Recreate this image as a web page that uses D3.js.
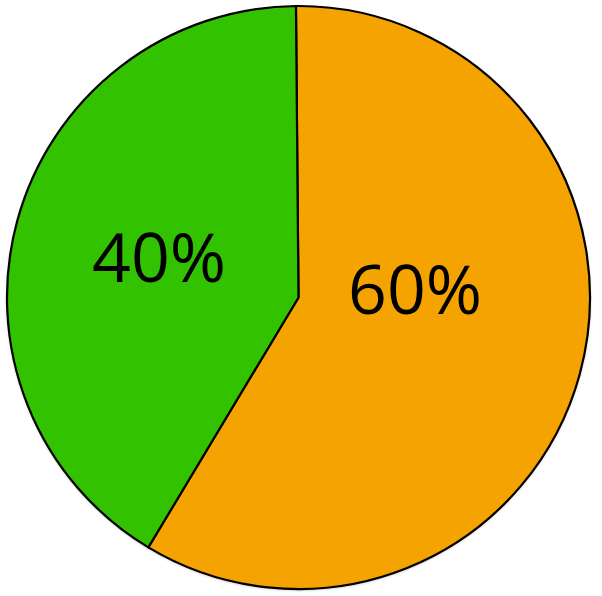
<!DOCTYPE html>
<html><head><meta charset="utf-8">
<script src="https://cdn.jsdelivr.net/npm/d3@7"></script>
<style>html,body{margin:0;padding:0;background:#fff;}svg{display:block;}</style>
</head><body>
<script>
const categories = ["Orange", "Green"];
const values = [58.75, 41.25];
const labels = ["60%", "40%"];
const colors = ["#f5a300", "#32c200"];

const W = 602, H = 596;
const cx = 298.5, cy = 297.5, R = 291.5;
const svg = d3.select("body").append("svg").attr("width", W).attr("height", H);
const defs = svg.append("defs");
const f = defs.append("filter").attr("id","sh").attr("x","-10%").attr("y","-10%").attr("width","120%").attr("height","120%");
f.append("feGaussianBlur").attr("in","SourceAlpha").attr("stdDeviation",1.5).attr("result","b");
f.append("feOffset").attr("in","b").attr("dx",0).attr("dy",1).attr("result","o");
f.append("feComponentTransfer").attr("in","o").attr("result","o2").append("feFuncA").attr("type","linear").attr("slope",0.35);
const m = f.append("feMerge"); m.append("feMergeNode").attr("in","o2"); m.append("feMergeNode").attr("in","SourceGraphic");

const startOff = -0.5 * Math.PI / 180;
const pie = d3.pie().sort(null).value(d => d).startAngle(startOff).endAngle(startOff + 2*Math.PI);
const arcs = pie(values);
const arc = d3.arc().innerRadius(0).outerRadius(R);
const g = svg.append("g").attr("transform", `translate(${cx},${cy})`);
g.append("circle").attr("r", R).attr("fill","#fff").attr("filter","url(#sh)");
g.selectAll("path").data(arcs).join("path")
  .attr("d", arc)
  .attr("fill", (d,i) => colors[i])
  .attr("stroke", "#000").attr("stroke-width", 2.2).attr("stroke-linejoin","miter");

// label placement: angle (deg from top, clockwise) and radius for each slice
const labelPos = [[85.3, 117], [286.6, 145.5]];
g.selectAll("text").data(arcs).join("text")
  .attr("x", (d,i) => labelPos[i][1] * Math.sin(labelPos[i][0]*Math.PI/180))
  .attr("y", (d,i) => -labelPos[i][1] * Math.cos(labelPos[i][0]*Math.PI/180))
  .attr("text-anchor","middle").attr("dominant-baseline","central")
  .attr("font-family","Open Sans, sans-serif").attr("font-size", 68)
  .attr("fill","#000")
  .text((d,i) => labels[i]);
</script>
</body></html>
